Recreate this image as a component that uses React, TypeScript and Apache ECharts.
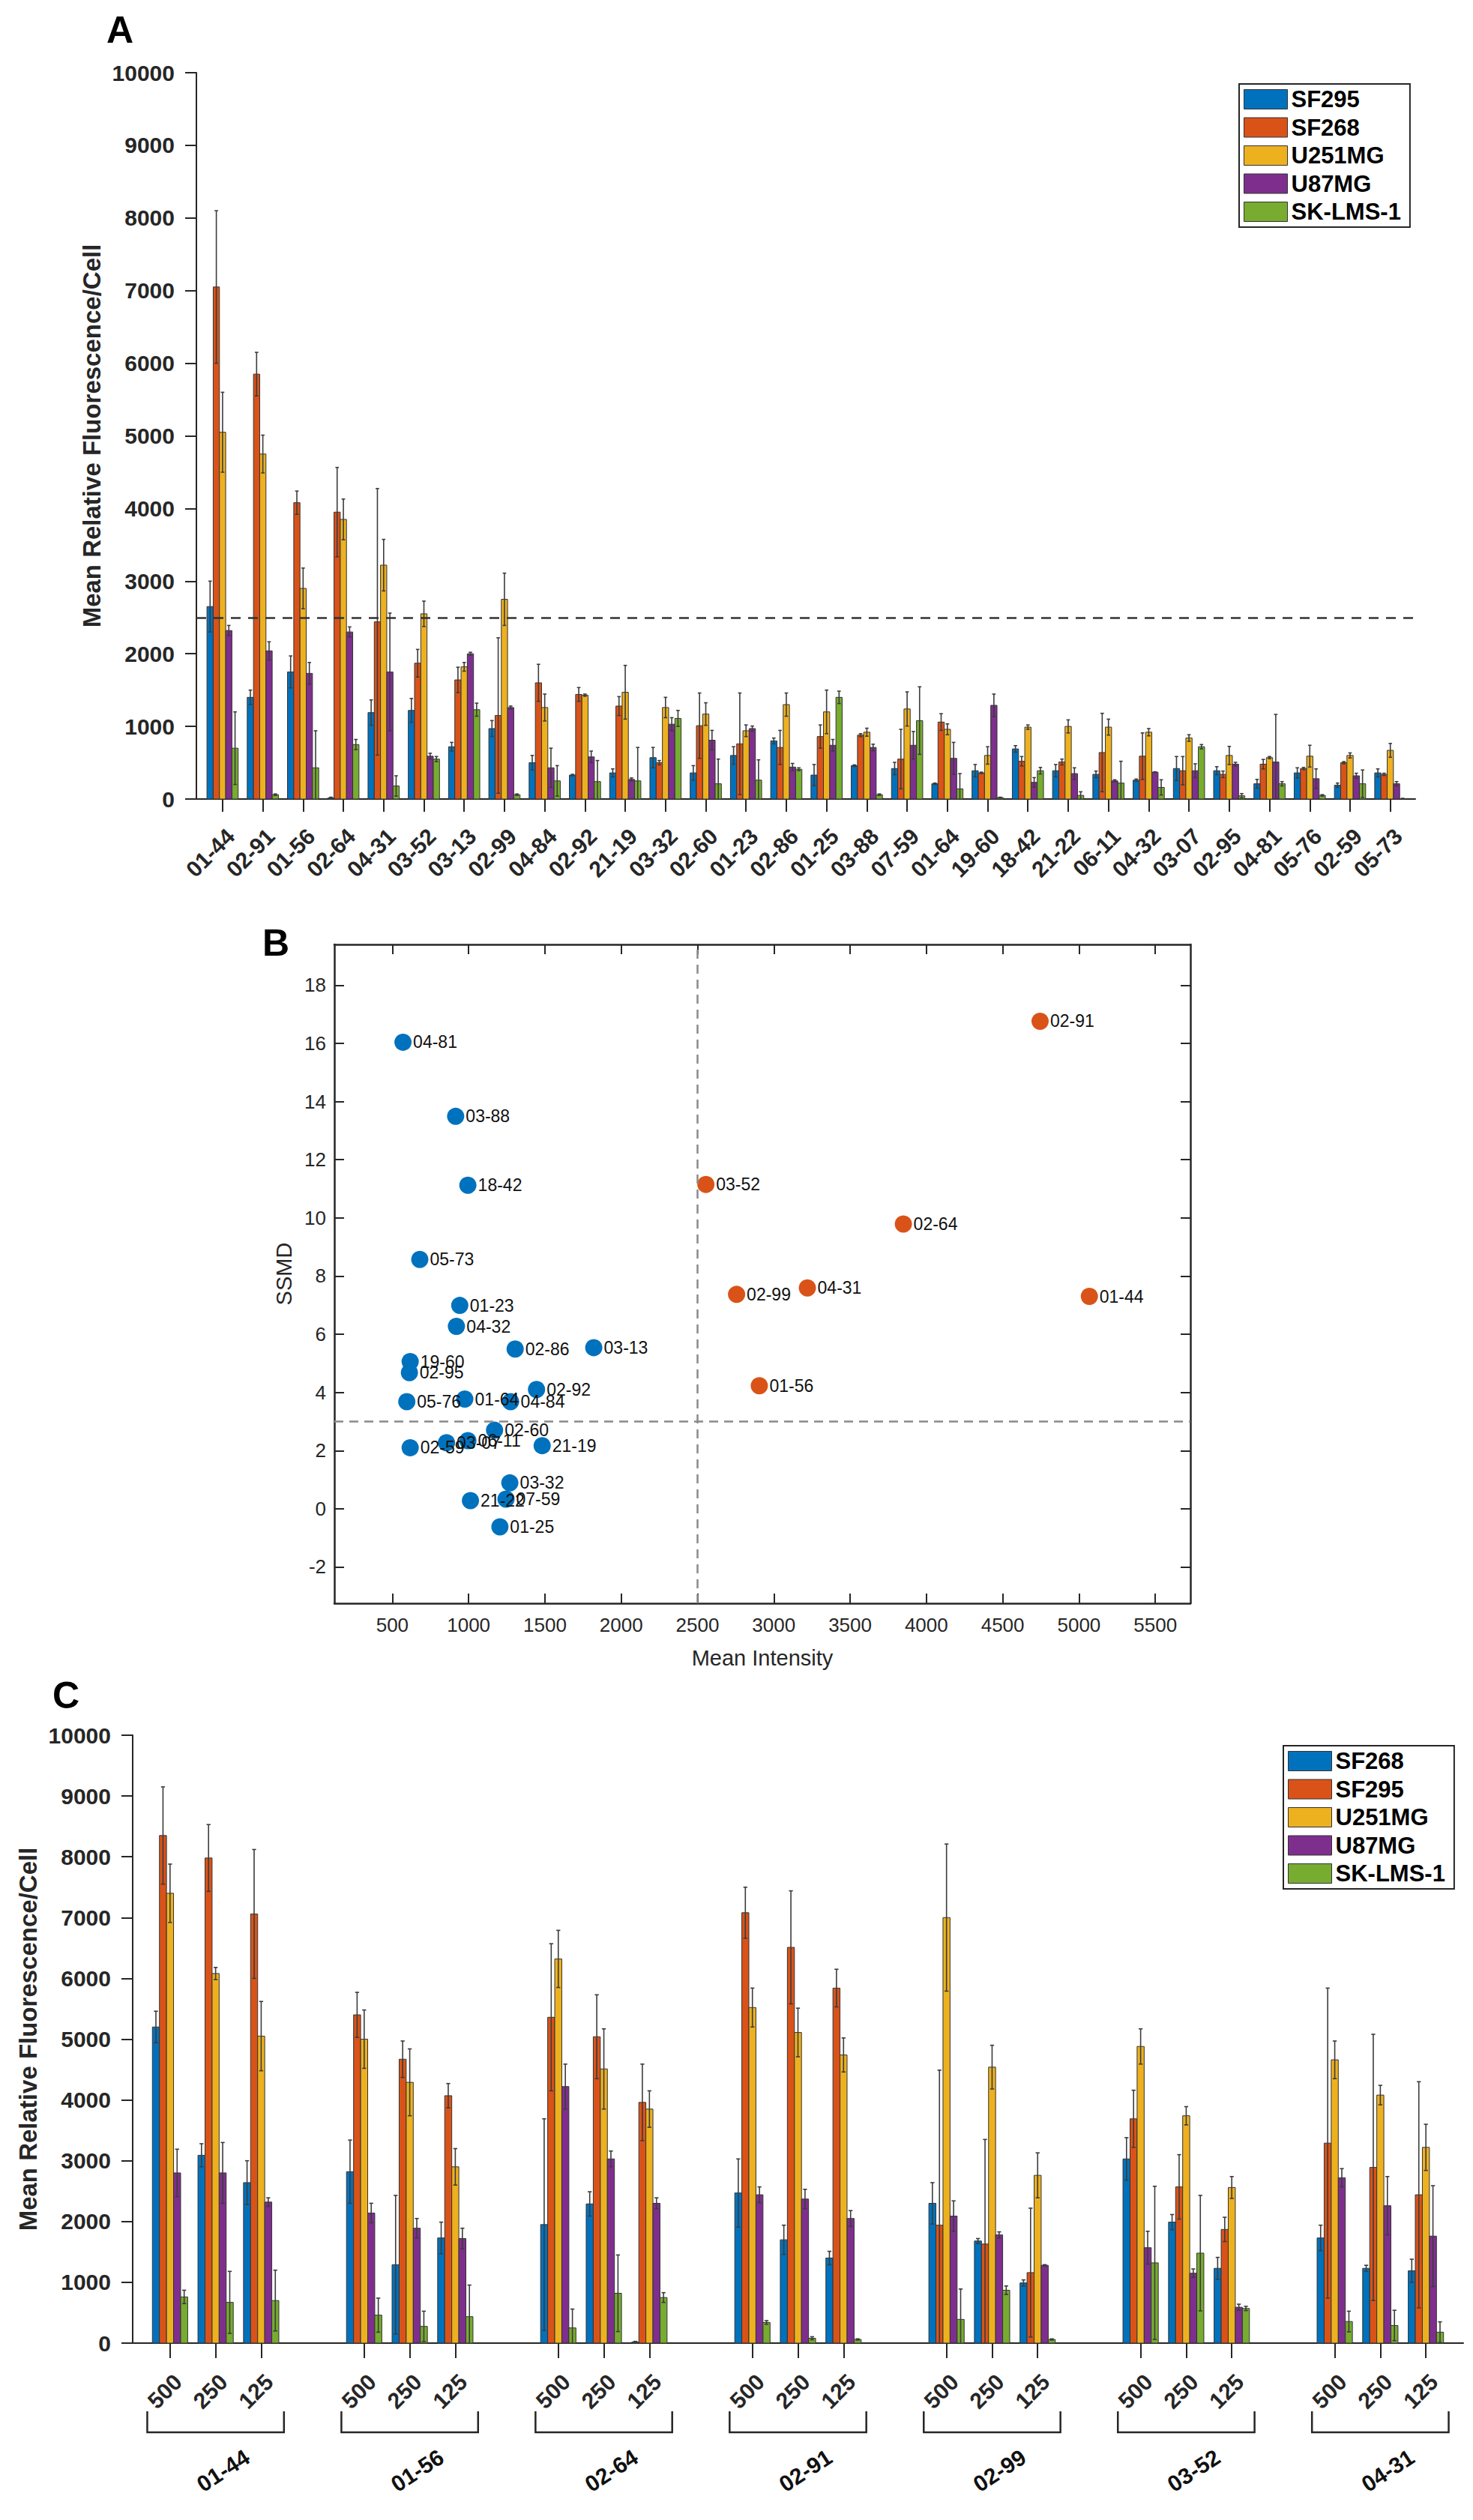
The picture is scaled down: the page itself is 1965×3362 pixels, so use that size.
import React, { useEffect, useRef } from 'react';
import * as echarts from 'echarts';

const FONT = '"Liberation Sans", Arial, Helvetica, sans-serif';
const INK = '#262626';
const COLORS = ['#0072BD', '#D95319', '#EDB120', '#7E2F8E', '#77AC30'];

// ---------- panel A: screening at 125 ----------
const categoriesA = [
    '01-44', '02-91', '01-56', '02-64', '04-31', '03-52', '03-13', '02-99', '04-84', '02-92',
    '21-19', '03-32', '02-60', '01-23', '02-86', '01-25', '03-88', '07-59', '01-64', '19-60',
    '18-42', '21-22', '06-11', '04-32', '03-07', '02-95', '04-81', '05-76', '02-59', '05-73',
];
const linesA = ['SF295', 'SF268', 'U251MG', 'U87MG', 'SK-LMS-1'];
const sf295A = [2650, 1400, 1750, 15, 1190, 1220, 720, 970, 500, 330, 360, 570, 360, 600, 800, 330, 460, 420, 210, 390, 690, 390, 340, 260, 420, 390, 210, 360, 190, 360];
const sf268A = [7050, 5850, 4080, 3950, 2440, 1870, 1640, 1150, 1600, 1440, 1280, 500, 1010, 760, 710, 860, 880, 550, 1060, 360, 520, 510, 640, 590, 390, 340, 480, 420, 500, 340];
const u251A = [5050, 4750, 2900, 3850, 3220, 2550, 1820, 2750, 1260, 1430, 1470, 1260, 1170, 940, 1300, 1200, 920, 1240, 960, 600, 990, 1000, 990, 920, 840, 600, 570, 590, 600, 670];
const u87A = [2320, 2040, 1730, 2300, 1750, 590, 2000, 1260, 430, 580, 270, 1030, 810, 970, 440, 740, 710, 740, 560, 1290, 230, 350, 250, 370, 390, 480, 510, 280, 320, 210];
const sklmsA = [700, 60, 430, 750, 180, 550, 1230, 60, 250, 240, 250, 1110, 210, 260, 410, 1400, 60, 1080, 140, 20, 390, 50, 220, 160, 720, 45, 210, 50, 210, 5];
const sf295ErrA = [350, 100, 220, 10, 175, 165, 60, 110, 100, 10, 55, 140, 100, 120, 40, 145, 10, 85, 10, 85, 45, 85, 45, 15, 165, 55, 60, 70, 30, 55];
const sf268ErrA = [1050, 300, 160, 615, 1835, 190, 175, 1070, 255, 95, 130, 30, 450, 700, 235, 160, 20, 410, 115, 10, 65, 40, 540, 320, 195, 45, 65, 15, 15, 15];
const u251ErrA = [550, 260, 280, 280, 355, 175, 60, 360, 185, 15, 370, 140, 155, 80, 160, 300, 55, 235, 75, 120, 30, 90, 110, 50, 45, 125, 15, 150, 35, 95];
const u87ErrA = [70, 125, 150, 70, 810, 40, 20, 20, 270, 80, 20, 90, 135, 35, 50, 80, 45, 190, 220, 155, 65, 80, 15, 5, 95, 25, 655, 135, 35, 30];
const sklmsErrA = [500, 10, 510, 70, 140, 35, 90, 10, 210, 290, 460, 110, 340, 280, 20, 85, 10, 465, 210, 5, 45, 50, 300, 105, 30, 30, 30, 10, 190, 5];
const thresholdA = 2500;

// ---------- panel B: SSMD vs mean intensity ----------
const lowNames = ['04-81', '03-88', '18-42', '05-73', '01-23', '04-32', '02-86', '03-13', '19-60', '02-95', '02-92', '01-64', '04-84', '05-76', '02-60', '03-07', '06-11', '02-59', '21-19', '03-32', '21-22', '07-59', '01-25'];
const lowIntensity = [570, 915, 995, 680, 942, 920, 1305, 1820, 617, 612, 1445, 975, 1275, 595, 1170, 855, 995, 617, 1482, 1270, 1012, 1245, 1205];
const lowSsmd = [16.04, 13.49, 11.12, 8.57, 6.99, 6.27, 5.49, 5.54, 5.06, 4.68, 4.1, 3.77, 3.68, 3.68, 2.7, 2.27, 2.34, 2.1, 2.17, 0.89, 0.28, 0.33, -0.62];
const hitNames = ['02-91', '03-52', '02-64', '02-99', '04-31', '01-44', '01-56'];
const hitIntensity = [4745, 2555, 3849, 2756, 3220, 5068, 2905];
const hitSsmd = [16.76, 11.15, 9.79, 7.37, 7.59, 7.3, 4.23];
const intensityCut = 2500;
const ssmdCut = 3;
const ticksBX = [500, 1000, 1500, 2000, 2500, 3000, 3500, 4000, 4500, 5000, 5500];
const ticksBY = [-2, 0, 2, 4, 6, 8, 10, 12, 14, 16, 18];

// ---------- panel C: dose response ----------
const groupsC = ['01-44', '01-56', '02-64', '02-91', '02-99', '03-52', '04-31'];
const concC = ['500', '250', '125'];
const linesC = ['SF268', 'SF295', 'U251MG', 'U87MG', 'SK-LMS-1'];
const sf268C = [5200, 3090, 2640, 2820, 1290, 1730, 1950, 2290, 18, 2470, 1700, 1400, 2300, 1680, 990, 3030, 1990, 1230, 1730, 1230, 1190];
const sf295C = [8350, 7980, 7060, 5400, 4670, 4070, 5360, 5040, 3960, 7080, 6510, 5840, 1940, 1630, 1160, 3690, 2570, 1870, 3290, 2890, 2440];
const u251C = [7400, 6080, 5050, 5000, 4290, 2900, 6320, 4510, 3850, 5520, 5110, 4740, 7000, 4540, 2760, 4880, 3740, 2560, 4660, 4080, 3220];
const u87C = [2800, 2800, 2320, 2140, 1890, 1720, 4220, 3030, 2300, 2440, 2370, 2050, 2090, 1780, 1280, 1570, 1150, 590, 2720, 2260, 1760];
const sklmsC = [760, 670, 700, 460, 275, 435, 250, 820, 750, 340, 80, 60, 390, 870, 60, 1320, 1480, 570, 355, 290, 180];
const sf268ErrC = [260, 190, 360, 520, 1140, 260, 1740, 200, 10, 560, 240, 110, 340, 40, 50, 350, 125, 180, 210, 50, 190];
const sf295ErrC = [800, 550, 1060, 370, 300, 200, 1210, 690, 630, 420, 930, 310, 2550, 1720, 1060, 470, 530, 200, 2550, 2190, 1860];
const u251ErrC = [480, 100, 570, 480, 550, 300, 470, 660, 300, 320, 400, 280, 1210, 360, 370, 290, 150, 180, 310, 160, 380];
const u87ErrC = [390, 500, 70, 160, 160, 170, 370, 130, 90, 130, 160, 130, 250, 50, 10, 270, 70, 50, 150, 480, 830];
const sklmsErrC = [110, 510, 500, 280, 250, 520, 310, 630, 80, 30, 25, 10, 500, 70, 10, 1260, 950, 35, 170, 250, 170];

const valuesA = [sf295A, sf268A, u251A, u87A, sklmsA];
const errorsA = [sf295ErrA, sf268ErrA, u251ErrA, u87ErrA, sklmsErrA];
const valuesC = [sf268C, sf295C, u251C, u87C, sklmsC];
const errorsC = [sf268ErrC, sf295ErrC, u251ErrC, u87ErrC, sklmsErrC];

// bar layout (x units of the axis)
const BAR_W = 0.155;
const GROUP_PITCH = 4.26;
const posA = categoriesA.map((_, i) => i + 1);
const posC: number[] = [];
groupsC.forEach((_, g) => concC.forEach((_, c) => posC.push(1 + g * GROUP_PITCH + c)));
const groupStart = groupsC.map((_, g) => 1 + g * GROUP_PITCH);

const nearest = (arr: number[], v: number) => {
    let best = 0;
    arr.forEach((p, i) => { if (Math.abs(p - v) < Math.abs(arr[best] - v)) best = i; });
    return best;
};
const plain = (v: number) => String(v);

const barRenderer = (k: number, color: string) => (params: any, api: any) => {
    const x = api.value(0) + (k - 2) * BAR_W;
    const v = api.value(1);
    const e = api.value(2);
    const p0 = api.coord([x - BAR_W / 2, 0]);
    const p1 = api.coord([x + BAR_W / 2, v]);
    const top = api.coord([x, v + e]);
    const low = Math.max(0, v - e);
    const bot = api.coord([x, low]);
    const cap = (p1[0] - p0[0]) * 0.28;
    const err = { stroke: '#3c3c3c', lineWidth: 1.6 };
    const children: any[] = [
        { type: 'rect', shape: { x: p0[0], y: p1[1], width: p1[0] - p0[0], height: p0[1] - p1[1] }, style: { fill: color, stroke: '#333', lineWidth: 1 } },
        { type: 'line', shape: { x1: top[0], y1: top[1], x2: bot[0], y2: bot[1] }, style: err },
        { type: 'line', shape: { x1: top[0] - cap, y1: top[1], x2: top[0] + cap, y2: top[1] }, style: err },
    ];
    if (low > 0) {
        children.push({ type: 'line', shape: { x1: bot[0] - cap, y1: bot[1], x2: bot[0] + cap, y2: bot[1] }, style: err });
    }
    return { type: 'group', children };
};

const boldText = (size: number) => ({ fontSize: size, fontWeight: 'bold' as const, color: INK, fontFamily: FONT });

const barYAxis = (gridIndex: number) => ({
    gridIndex,
    type: 'value' as const,
    min: 0,
    max: 10000,
    interval: 1000,
    axisLine: { show: true, onZero: false, lineStyle: { color: INK, width: 2 } },
    axisTick: { show: true, length: 15, lineStyle: { color: INK, width: 2 } },
    axisLabel: { ...boldText(30), margin: 29, formatter: plain },
    splitLine: { show: false },
    name: 'Mean Relative Fluorescence/Cell',
    nameLocation: 'middle' as const,
    nameGap: 120,
    nameTextStyle: boldText(33),
});

const legendFor = (names: string[], left: number, top: number) => ({
    orient: 'vertical' as const,
    left,
    top,
    icon: 'rect',
    itemWidth: 58,
    itemHeight: 26,
    itemGap: 6.5,
    padding: [5, 12, 5, 6],
    borderColor: INK,
    borderWidth: 2,
    selectedMode: false,
    textStyle: { fontSize: 31, fontWeight: 'bold' as const, color: '#000', fontFamily: FONT },
    data: names.map((name, k) => ({ name, itemStyle: { color: COLORS[k], borderColor: '#333', borderWidth: 1 } })),
});

const App: React.FC = () => {
    const chartRef = useRef<HTMLDivElement>(null);

    useEffect(() => {
        const chartDom = chartRef.current!;
        const myChart = echarts.init(chartDom, undefined, { renderer: 'svg' });

        const boxAxisX = (position: 'bottom' | 'top', labels: boolean) => ({
            gridIndex: 1,
            type: 'value' as const,
            position,
            min: 120,
            max: 5730,
            axisLine: { show: true, onZero: false, lineStyle: { color: INK, width: 2.5 } },
            axisTick: { show: true, inside: true, length: 13, customValues: ticksBX, lineStyle: { color: INK, width: 2 } },
            axisLabel: { show: labels, customValues: ticksBX, fontSize: 26, color: INK, fontFamily: FONT, margin: 16, formatter: plain },
            splitLine: { show: false },
            ...(labels ? {
                name: 'Mean Intensity', nameLocation: 'middle' as const, nameGap: 58,
                nameTextStyle: { fontSize: 29, color: INK, fontFamily: FONT },
            } : {}),
        });
        const boxAxisY = (position: 'left' | 'right', labels: boolean) => ({
            gridIndex: 1,
            type: 'value' as const,
            position,
            min: -3.25,
            max: 19.4,
            axisLine: { show: true, onZero: false, lineStyle: { color: INK, width: 2.5 } },
            axisTick: { show: true, inside: true, length: 13, customValues: ticksBY, lineStyle: { color: INK, width: 2 } },
            axisLabel: { show: labels, customValues: ticksBY, fontSize: 26, color: INK, fontFamily: FONT, margin: 11, formatter: plain },
            splitLine: { show: false },
            ...(labels ? {
                name: 'SSMD', nameLocation: 'middle' as const, nameGap: 53,
                nameTextStyle: { fontSize: 29, color: INK, fontFamily: FONT },
            } : {}),
        });

        const scatterLabel = { show: true, position: 'right' as const, distance: 2, formatter: '{b}', fontSize: 23, color: '#111', fontFamily: FONT };

        const option: any = {
            animation: false,
            backgroundColor: '#fff',
            textStyle: { fontFamily: FONT },
            grid: [
                { left: 262, top: 97, width: 1626, height: 969 },
                { left: 446, top: 1260, width: 1142, height: 879 },
                { left: 177, top: 2315, width: 1775, height: 811 },
            ],
            legend: [legendFor(linesA, 1653, 112), legendFor(linesC, 1712, 2329)],
            graphic: [
                { type: 'text', left: 142, top: 15, style: { text: 'A', fontSize: 50, fontWeight: 'bold', fill: '#000', fontFamily: FONT } },
                { type: 'text', left: 350, top: 1233, style: { text: 'B', fontSize: 50, fontWeight: 'bold', fill: '#000', fontFamily: FONT } },
                { type: 'text', left: 70, top: 2237, style: { text: 'C', fontSize: 50, fontWeight: 'bold', fill: '#000', fontFamily: FONT } },
            ],
            xAxis: [
                {
                    gridIndex: 0,
                    type: 'value',
                    min: 0.35,
                    max: 30.62,
                    axisLine: { show: true, onZero: false, lineStyle: { color: INK, width: 2 } },
                    axisTick: { show: true, length: 17, customValues: posA, lineStyle: { color: INK, width: 2 } },
                    axisLabel: {
                        ...boldText(30), customValues: posA, rotate: 45, margin: 34,
                        align: 'right', verticalAlign: 'top',
                        formatter: (v: number) => categoriesA[nearest(posA, v)],
                    },
                    splitLine: { show: false },
                },
                boxAxisX('bottom', true),
                boxAxisX('top', false),
                {
                    gridIndex: 2,
                    type: 'value',
                    min: 0.18,
                    max: 29.38,
                    axisLine: { show: true, onZero: false, lineStyle: { color: INK, width: 2 } },
                    axisTick: { show: true, length: 20, customValues: posC, lineStyle: { color: INK, width: 2 } },
                    axisLabel: {
                        ...boldText(30), customValues: posC, rotate: 45, margin: 36,
                        align: 'right', verticalAlign: 'top',
                        formatter: (v: number) => concC[nearest(posC, v) % concC.length],
                    },
                    splitLine: { show: false },
                },
            ],
            yAxis: [barYAxis(0), boxAxisY('left', true), boxAxisY('right', false), barYAxis(2)],
            series: [
                ...linesA.map((name, k) => ({
                    type: 'custom',
                    name,
                    xAxisIndex: 0,
                    yAxisIndex: 0,
                    itemStyle: { color: COLORS[k] },
                    encode: { x: 0, y: 1 },
                    renderItem: barRenderer(k, COLORS[k]),
                    data: posA.map((x, i) => [x, valuesA[k][i], errorsA[k][i]]),
                })),
                {
                    type: 'line',
                    name: 'threshold',
                    xAxisIndex: 0,
                    yAxisIndex: 0,
                    data: [],
                    silent: true,
                    markLine: {
                        silent: true,
                        symbol: ['none', 'none'],
                        label: { show: false },
                        lineStyle: { color: '#333', type: [13, 10], width: 2.5 },
                        data: [{ yAxis: thresholdA }],
                    },
                },
                {
                    type: 'scatter',
                    name: 'below',
                    xAxisIndex: 1,
                    yAxisIndex: 1,
                    symbolSize: 23,
                    itemStyle: { color: COLORS[0], opacity: 1 },
                    label: scatterLabel,
                    data: lowNames.map((n, i) => ({ name: n, value: [lowIntensity[i], lowSsmd[i]] })),
                    markLine: {
                        silent: true,
                        symbol: ['none', 'none'],
                        label: { show: false },
                        lineStyle: { color: '#8a8a8a', type: [12, 8], width: 2.5 },
                        data: [{ xAxis: intensityCut }, { yAxis: ssmdCut }],
                    },
                },
                {
                    type: 'scatter',
                    name: 'hits',
                    xAxisIndex: 1,
                    yAxisIndex: 1,
                    symbolSize: 23,
                    itemStyle: { color: COLORS[1], opacity: 1 },
                    label: scatterLabel,
                    data: hitNames.map((n, i) => ({ name: n, value: [hitIntensity[i], hitSsmd[i]] })),
                },
                ...linesC.map((name, k) => ({
                    type: 'custom',
                    name,
                    xAxisIndex: 3,
                    yAxisIndex: 3,
                    itemStyle: { color: COLORS[k] },
                    encode: { x: 0, y: 1 },
                    renderItem: barRenderer(k, COLORS[k]),
                    data: posC.map((x, i) => [x, valuesC[k][i], errorsC[k][i]]),
                })),
                {
                    type: 'custom',
                    name: 'groups',
                    xAxisIndex: 3,
                    yAxisIndex: 3,
                    clip: false,
                    silent: true,
                    encode: { x: 0, y: 1 },
                    renderItem: (params: any, api: any) => {
                        const s = api.value(0);
                        const a = api.coord([s - 0.5, 0]);
                        const b = api.coord([s + concC.length - 0.5, 0]);
                        const y = a[1];
                        return {
                            type: 'group',
                            children: [
                                {
                                    type: 'polyline',
                                    shape: { points: [[a[0], y + 91], [a[0], y + 119], [b[0], y + 119], [b[0], y + 91]] },
                                    style: { stroke: INK, lineWidth: 2.5, fill: 'none' },
                                },
                                {
                                    type: 'text',
                                    x: (a[0] + b[0]) / 2 + 10,
                                    y: y + 170,
                                    rotation: (33 * Math.PI) / 180,
                                    style: {
                                        text: groupsC[params.dataIndex], fontSize: 30, fontWeight: 'bold',
                                        fontFamily: FONT, fill: '#111', align: 'center', verticalAlign: 'middle',
                                    },
                                },
                            ],
                        };
                    },
                    data: groupStart.map((s) => [s, 0]),
                },
            ],
        };

        myChart.setOption(option);

        return () => {
            myChart.dispose();
        };
    }, []);

    return (
        <div
            ref={chartRef}
            style={{ position: 'absolute', left: 0, top: 0, width: 1965, height: 3362, background: '#fff' }}
        />
    );
};

export default App;
